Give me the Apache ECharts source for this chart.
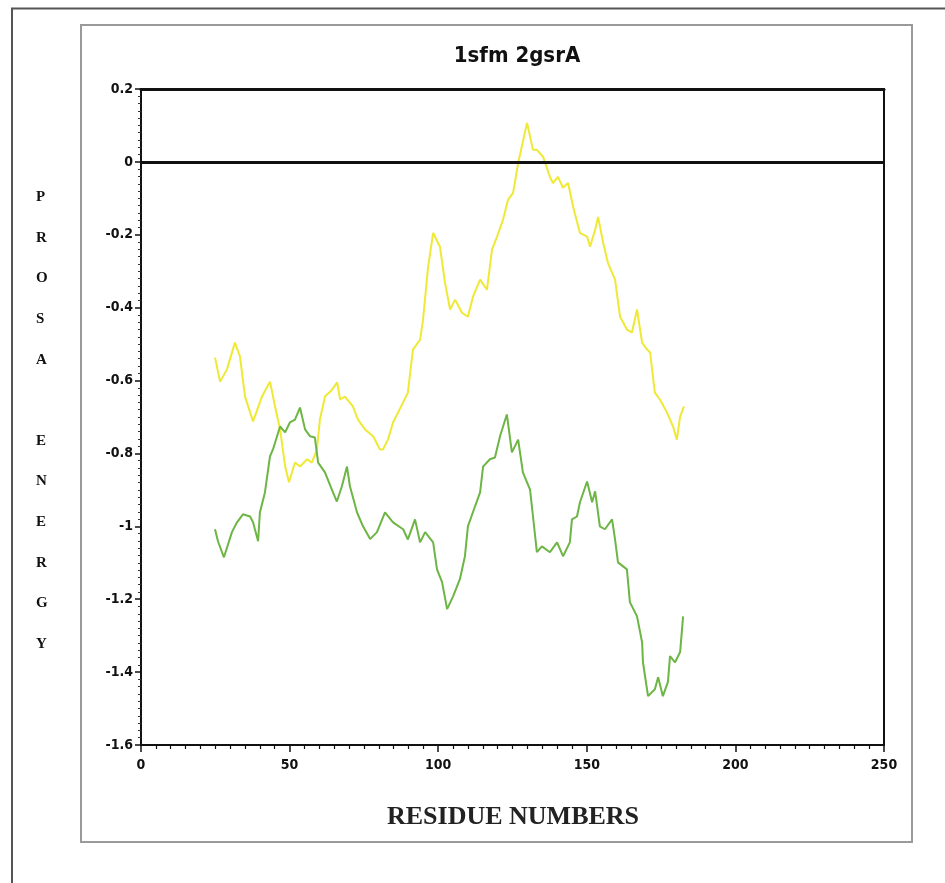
<!DOCTYPE html>
<html>
<head>
<meta charset="utf-8">
<script src="https://cdn.jsdelivr.net/npm/echarts@6/dist/echarts.min.js"></script>
<style>
html,body{margin:0;padding:0;background:#fff;}
#chart{width:945px;height:883px;}
</style>
</head>
<body>
<div id="chart"></div>
<script>
// ---- data ----
var yellowResidue = [24.9,26.6,28.9,31.6,33.3,35.0,37.7,40.7,43.4,45.1,46.8,48.5,49.8,51.8,53.5,55.9,57.5,59.2,60.2,61.9,64.3,66.0,67.0,68.6,71.3,73.0,75.4,78.1,80.4,81.4,83.1,84.8,88.2,89.8,91.5,93.9,94.9,96.6,98.3,100.6,102.3,104.0,105.7,108.0,110.0,111.7,114.1,116.4,118.1,119.8,121.8,123.5,125.2,126.9,129.9,131.9,133.2,135.3,137.6,138.6,140.3,142.0,143.7,145.4,147.7,150.1,151.1,152.8,153.8,155.5,157.1,159.5,161.2,163.5,165.2,166.9,168.6,170.3,171.3,172.9,174.6,177.0,179.0,180.3,181.4,182.7];
var yellowEnergy = [-0.537,-0.603,-0.570,-0.496,-0.534,-0.644,-0.712,-0.644,-0.603,-0.671,-0.734,-0.836,-0.879,-0.825,-0.836,-0.816,-0.825,-0.789,-0.707,-0.644,-0.625,-0.605,-0.652,-0.644,-0.671,-0.707,-0.734,-0.753,-0.789,-0.789,-0.762,-0.715,-0.660,-0.633,-0.515,-0.488,-0.433,-0.288,-0.195,-0.233,-0.332,-0.405,-0.378,-0.414,-0.425,-0.370,-0.323,-0.351,-0.241,-0.205,-0.159,-0.104,-0.085,-0.003,0.107,0.033,0.033,0.014,-0.041,-0.058,-0.041,-0.071,-0.058,-0.123,-0.195,-0.205,-0.233,-0.186,-0.151,-0.222,-0.277,-0.323,-0.425,-0.460,-0.468,-0.405,-0.496,-0.515,-0.523,-0.633,-0.652,-0.688,-0.726,-0.762,-0.699,-0.671];

var greenResidue = [24.9,25.9,27.9,30.6,32.3,34.3,36.7,37.7,39.4,40.0,41.7,43.4,44.4,46.8,48.5,50.1,51.8,53.5,55.2,56.9,58.5,59.6,61.9,64.6,65.9,67.6,69.3,70.3,72.7,74.7,77.1,79.4,82.1,84.8,88.2,89.8,92.2,93.9,95.6,98.3,99.6,101.3,103.0,105.0,107.3,109.0,110.0,112.4,114.1,115.1,117.4,119.1,120.8,123.1,124.8,126.9,128.5,130.9,131.9,133.2,134.9,137.6,140.0,142.0,144.3,145.0,146.7,147.7,150.1,151.8,152.8,154.4,156.1,158.5,159.5,160.5,163.5,164.5,166.9,168.6,168.9,170.6,172.9,174.0,175.6,177.3,178.0,179.7,181.4,182.4];
var greenEnergy = [-1.008,-1.041,-1.085,-1.016,-0.989,-0.967,-0.973,-0.989,-1.041,-0.962,-0.907,-0.808,-0.789,-0.726,-0.742,-0.715,-0.707,-0.674,-0.734,-0.753,-0.756,-0.825,-0.852,-0.907,-0.932,-0.890,-0.836,-0.890,-0.962,-1.000,-1.035,-1.016,-0.962,-0.989,-1.008,-1.036,-0.981,-1.044,-1.016,-1.044,-1.118,-1.153,-1.227,-1.192,-1.145,-1.082,-1.000,-0.945,-0.907,-0.836,-0.816,-0.811,-0.753,-0.693,-0.797,-0.762,-0.852,-0.899,-0.973,-1.071,-1.055,-1.071,-1.044,-1.082,-1.044,-0.981,-0.973,-0.934,-0.877,-0.934,-0.904,-1.000,-1.008,-0.981,-1.036,-1.099,-1.118,-1.208,-1.247,-1.318,-1.373,-1.466,-1.447,-1.414,-1.466,-1.427,-1.356,-1.373,-1.345,-1.247];

var xTicks = [0,50,100,150,200,250];
var yTicks = [0.2,0,-0.2,-0.4,-0.6,-0.8,-1,-1.2,-1.4,-1.6];
var titleText = '1sfm 2gsrA';
var xName = 'RESIDUE NUMBERS';
var yNameLetters = ['P','R','O','S','A','','E','N','E','R','G','Y'];

function pairs(xs, ys){ var out=[]; for(var i=0;i<xs.length;i++){ out.push([xs[i], ys[i]]); } return out; }

var tickFont = "'Liberation Sans Narrow','DejaVu Sans Condensed','Roboto Condensed',sans-serif";
var serif = "'Liberation Serif','DejaVu Serif',serif";

var chart = echarts.init(document.getElementById('chart'), null, {renderer:'canvas'});
chart.setOption({
  animation:false,
  backgroundColor:'#fff',
  grid:{left:141, right:61, top:89, bottom:138, containLabel:false},
  title:{
    text:titleText, left:512, top:40, textAlign:'center',
    textStyle:{fontFamily:tickFont, fontWeight:'bold', fontSize:22, color:'#111'}
  },
  graphic:[
    {type:'polyline', shape:{points:[[12,883],[12,8.5],[945,8.5]]}, style:{stroke:'#555', lineWidth:2, fill:null}, silent:true},
    {type:'rect', shape:{x:81, y:25, width:831, height:817}, style:{stroke:'#9a9a9a', lineWidth:2, fill:null}, silent:true},
    {type:'text', left:36, top:177, style:{text:yNameLetters.join('\n'), fontFamily:serif, fontWeight:'bold', fontSize:15, lineHeight:40.6, fill:'#111', align:'center'}},
    {type:'text', style:{x:513, y:817, text:xName, fontFamily:serif, fontWeight:'bold', fontSize:26, fill:'#222', align:'center', verticalAlign:'middle'}}
  ],
  xAxis:[{
    type:'value', min:0, max:250, interval:50, position:'bottom',
    axisLine:{show:true, onZero:false, lineStyle:{color:'#111', width:2}},
    axisTick:{show:true, inside:false, length:7, lineStyle:{color:'#111', width:1.5}},
    minorTick:{show:true, splitNumber:10, length:4, lineStyle:{color:'#111', width:1.2}},
    splitLine:{show:false},
    axisLabel:{show:true, margin:13, fontFamily:tickFont, fontWeight:'bold', fontSize:14, color:'#111'}
  },{
    type:'value', min:0, max:250, position:'top',
    axisLine:{show:true, onZero:false, lineStyle:{color:'#111', width:3}},
    axisTick:{show:false}, axisLabel:{show:false}, splitLine:{show:false}
  }],
  yAxis:[{
    type:'value', min:-1.6, max:0.2, interval:0.2, position:'left',
    axisLine:{show:true, onZero:false, lineStyle:{color:'#111', width:2}},
    axisTick:{show:true, inside:false, length:6, lineStyle:{color:'#111', width:1.5}},
    minorTick:{show:true, splitNumber:10, length:3, lineStyle:{color:'#333', width:1}},
    splitLine:{show:false},
    axisLabel:{show:true, margin:8, fontFamily:tickFont, fontWeight:'bold', fontSize:14, color:'#111',
      formatter:function(v){ var r=Math.round(v*10)/10; return (r===0?'0':String(r)); }}
  },{
    type:'value', min:-1.6, max:0.2, position:'right',
    axisLine:{show:true, onZero:false, lineStyle:{color:'#111', width:2}},
    axisTick:{show:false}, axisLabel:{show:false}, splitLine:{show:false}
  }],
  series:[
    {
      name:'yellow', type:'line', xAxisIndex:0, yAxisIndex:0, symbol:'none', smooth:false,
      data:pairs(yellowResidue, yellowEnergy),
      lineStyle:{color:'#efe935', width:2},
      markLine:{silent:true, symbol:['none','none'], label:{show:false},
        lineStyle:{color:'#111', width:3, type:'solid'}, data:[{yAxis:0}]}
    },
    {
      name:'green', type:'line', xAxisIndex:0, yAxisIndex:0, symbol:'none', smooth:false,
      data:pairs(greenResidue, greenEnergy),
      lineStyle:{color:'#6db544', width:2}
    }
  ]
});
</script>
</body>
</html>
